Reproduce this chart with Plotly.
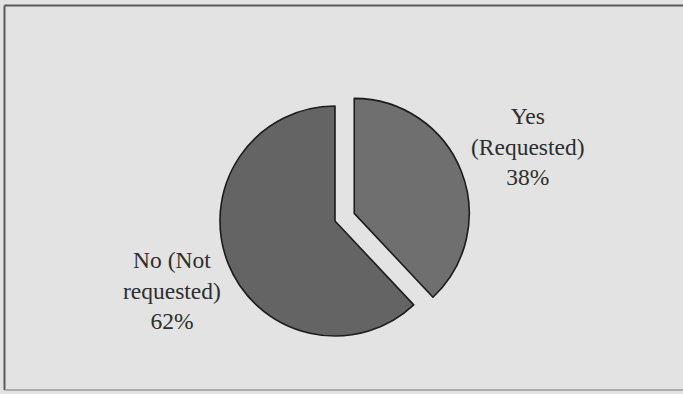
import plotly.graph_objects as go

labels = ["Yes<br>(Requested)", "No (Not<br>requested)"]
values = [38, 62]
colors = ["#6f6f6f", "#646464"]
pulls = [0.18, 0]

W, H = 683, 394
total = sum(values)

fig = go.Figure(go.Pie(
    labels=labels,
    values=values,
    sort=False,
    direction="clockwise",
    rotation=0,
    pull=pulls,
    textinfo="none",
    hoverinfo="label+percent",
    marker=dict(colors=colors, line=dict(color="#1c1c1c", width=1.6)),
    domain=dict(x=[199.3 / W, 470.7 / W], y=[1 - 356.7 / H, 1 - 85.3 / H]),
    showlegend=False,
))

# label positions (pixels) for each slice text block
label_pos = [(528, 147), (172, 290)]
for lab, val, (px, py) in zip(labels, values, label_pos):
    fig.add_annotation(
        x=px / W, y=1 - py / H, xref="paper", yref="paper",
        text=f"{lab}<br>{round(100 * val / total)}%",
        showarrow=False, xanchor="center", yanchor="middle",
        font=dict(family="Liberation Serif", size=23.5, color="#2e2e2e"),
    )

# frame
fig.add_shape(type="line", xref="paper", yref="paper",
              x0=4.5 / W, x1=1.02, y0=1 - 5.5 / H, y1=1 - 5.5 / H,
              line=dict(color="#5a5a5a", width=2))
fig.add_shape(type="line", xref="paper", yref="paper",
              x0=4.5 / W, x1=4.5 / W, y0=1 - 5.5 / H, y1=1 - 390 / H,
              line=dict(color="#5a5a5a", width=2))
fig.add_shape(type="line", xref="paper", yref="paper",
              x0=4.5 / W, x1=1.02, y0=1 - 390 / H, y1=1 - 390 / H,
              line=dict(color="#9a9a9a", width=1.5))

fig.update_layout(
    width=W, height=H,
    margin=dict(l=0, r=0, t=0, b=0),
    paper_bgcolor="#e3e3e3",
    plot_bgcolor="#e3e3e3",
)

fig.write_html("out.html",
               config={"displayModeBar": False},
               post_script="document.body.style.margin='0';document.body.style.overflow='hidden';")
